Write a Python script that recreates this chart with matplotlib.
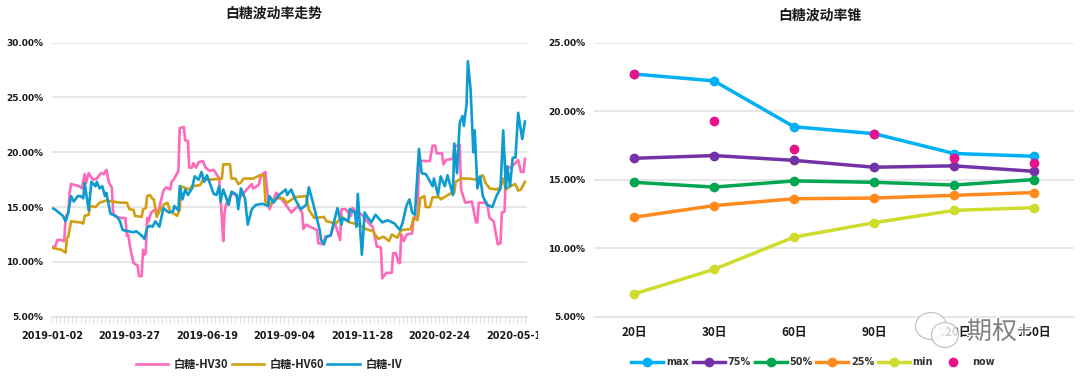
import matplotlib
matplotlib.use("Agg")
import matplotlib.pyplot as plt
import matplotlib.patheffects as pe
from matplotlib.ticker import FuncFormatter
from matplotlib.transforms import Bbox
from matplotlib.patches import Ellipse

plt.rcParams['font.family'] = ['Noto Sans CJK SC', 'DejaVu Sans']

hv30_i = [0,2,4,6,9,10,12,13,14,17,20,22,24,25,27,30,33,36,38,40,42,44,45,47,51,54,55,56,58,60,63,64,66,67,68,69,70,71,73,76,78,80,82,84,87,88,90,93,94,97,98,100,101,103,104,106,108,111,113,116,119,121,123,125,126,127,128,131,134,137,144,147,148,152,154,157,159,160,165,171,176,181,184,185,187,190,195,196,200,201,205,208,212,213,216,220,221,225,228,234,236,239,242,243,246,250,251,253,255,256,257,259,261,265,266,269,270,272,278,280,282,283,287,288,290,295,296,300,301,304,309,312,313,314,320,322,325,328,330,331,333,334,337,341,343,345,347,348]
hv30_v = [11.4,11.3,12.0,12.0,11.9,14.1,14.5,16.3,17.1,17.0,16.9,16.7,18.0,17.2,18.1,17.5,17.6,18.1,18.0,18.4,17.2,16.8,14.5,14.1,14.0,14.0,12.4,12.5,11.0,9.9,9.65,8.7,8.7,11.1,10.65,10.8,14.0,13.7,14.5,14.8,14.5,15.5,16.5,16.8,16.6,17.3,17.6,18.3,22.2,22.3,21.1,21.0,18.6,18.6,19.0,18.6,19.1,19.2,18.6,18.3,18.4,18.0,17.6,14.0,11.9,14.5,15.2,16.0,16.3,15.7,16.7,17.1,16.7,17.0,17.9,18.2,15.7,14.8,16.3,15.4,14.5,15.1,14.5,13.0,13.4,13.2,12.9,11.7,11.6,12.3,12.4,13.6,12.0,14.8,14.8,14.2,14.9,14.5,14.3,13.4,13.2,11.4,11.3,8.5,9.0,9.0,10.8,10.8,9.9,9.9,12.5,11.9,12.5,12.6,14.0,14.2,19.3,19.2,19.2,20.6,20.6,19.9,19.9,18.9,19.3,19.4,20.5,20.7,16.6,15.4,15.5,13.6,13.6,15.4,15.4,14.0,13.7,11.6,11.7,14.5,14.6,18.7,18.6,19.0,19.3,18.2,18.2,19.4]

hv60_i = [0,3,7,10,11,12,14,21,23,24,27,28,32,35,40,45,50,55,57,60,61,66,67,69,70,72,74,75,77,79,82,85,87,92,94,95,99,101,103,109,111,116,125,126,131,132,135,137,139,141,148,153,156,157,160,165,170,173,179,187,189,193,200,202,209,213,219,226,231,236,240,244,248,250,254,257,264,266,269,271,274,275,278,280,285,286,290,294,296,297,301,307,312,317,319,322,327,330,332,334,337,341,343,345,348]
hv60_v = [11.3,11.2,11.1,10.85,12.2,12.3,13.7,13.6,13.5,14.2,14.3,15.1,15.0,15.4,15.6,15.5,15.4,15.4,14.8,14.75,14.2,14.1,14.8,14.9,16.0,16.1,15.75,15.7,14.1,14.6,15.2,15.4,14.6,14.2,14.75,16.9,16.7,16.6,16.9,17.0,17.5,17.5,17.6,18.9,18.9,17.6,17.6,17.1,17.25,17.6,17.6,17.9,17.9,15.5,15.2,15.8,15.8,15.4,15.9,16.0,14.75,14.0,14.1,13.7,13.5,14.1,13.6,13.4,13.0,12.8,12.1,12.3,11.9,12.5,12.2,12.9,13.0,14.0,13.8,15.8,16.0,15.0,15.0,15.9,15.9,15.7,16.0,16.3,16.3,17.3,17.6,17.6,17.5,17.9,17.2,16.7,16.6,16.8,17.6,16.6,16.9,17.1,16.5,16.6,17.3]

iv_i = [0,2,5,8,10,12,14,16,19,21,23,24,27,29,32,33,35,37,39,40,43,48,50,52,56,60,62,66,68,70,72,74,76,79,82,86,89,90,93,94,96,98,100,103,105,108,110,112,114,119,121,123,124,126,130,132,136,137,139,142,144,147,150,155,159,160,163,167,172,173,176,179,183,187,189,192,197,198,200,202,205,210,213,214,218,219,223,224,225,228,230,232,235,238,243,247,252,256,258,261,263,265,267,270,272,275,277,280,281,284,286,289,291,295,296,298,300,302,303,305,306,308,310,311,313,315,317,320,324,327,330,332,334,335,337,339,341,343,346,348]
iv_v = [14.9,14.8,14.5,14.2,13.7,14.5,16.0,15.5,16.0,16.0,15.8,17.2,14.7,17.3,16.9,17.3,16.7,16.9,16.0,16.3,14.4,14.1,13.7,12.9,12.8,12.7,12.8,12.4,12.1,13.1,13.3,13.2,13.7,13.2,14.9,14.5,14.6,15.1,14.7,16.9,15.7,16.6,16.1,16.7,17.8,17.5,18.2,17.3,17.9,16.2,16.1,16.9,15.5,16.6,15.2,16.4,16.1,14.8,16.7,15.8,13.4,14.8,15.2,15.3,15.1,16.0,15.4,16.1,16.6,16.1,16.6,15.7,14.8,15.2,16.8,15.4,12.9,12.0,11.6,12.3,12.4,14.9,13.4,14.0,13.7,14.8,14.5,13.2,16.2,10.65,14.5,14.1,13.6,14.3,13.6,13.8,13.5,12.9,13.6,15.2,15.7,14.5,14.3,20.3,18.1,18.0,17.6,16.9,17.6,16.1,17.8,16.9,17.9,16.1,20.8,18.1,22.7,23.3,22.4,24.3,28.3,25.7,20.0,22.0,16.7,17.8,16.0,15.2,15.0,16.0,16.7,22.0,16.7,18.7,16.9,19.5,19.5,23.6,21.2,22.8]

date_ticks = [0,57,114,171,228,285,342]
date_labels = ['2019-01-02','2019-03-27','2019-06-19','2019-09-04','2019-11-28','2020-02-24','2020-05-15']

tenors = ['20日','30日','60日','90日','120日','150日']
cone_max = [22.7,22.2,18.85,18.35,16.9,16.7]
cone_75 = [16.55,16.75,16.4,15.9,16.0,15.6]
cone_50 = [14.8,14.45,14.9,14.8,14.6,15.0]
cone_25 = [12.25,13.1,13.6,13.65,13.85,14.05]
cone_min = [6.65,8.45,10.8,11.85,12.75,12.95]
cone_now = [22.7,19.3,17.2,18.3,16.6,16.2]

W, H = 1080, 380
GRID = '#E3E3E3'
TXT = '#1A1A1A'
pct = FuncFormatter(lambda v, _: f'{v:.2f}%')

fig = plt.figure(figsize=(W/100, H/100), dpi=100)

def axes_px(x0, y0, x1, y1):
    return fig.add_axes([x0/W, 1-y1/H, (x1-x0)/W, (y1-y0)/H])

def style(ax):
    for s in ['top', 'right', 'left']:
        ax.spines[s].set_visible(False)
    ax.spines['bottom'].set_color(GRID)
    ax.spines['bottom'].set_linewidth(1.2)
    ax.grid(axis='y', color=GRID, lw=1.2)
    ax.set_axisbelow(True)
    ax.tick_params(axis='y', length=0, pad=6.5)
    for t in ax.get_yticklabels():
        t.set(fontsize=6.5, fontweight='bold', color=TXT, family=['DejaVu Sans'])

# Left
a = axes_px(52, 42.6, 527, 316.7)
a.plot(hv30_i, hv30_v, color='#FF69B9', lw=1.9, label='白糖-HV30')
a.plot(hv60_i, hv60_v, color='#D09F12', lw=1.9, label='白糖-HV60')
a.plot(iv_i, iv_v, color='#0E9CD0', lw=1.9, label='白糖-IV')
a.set_xlim(0, 349.5)
a.set_ylim(5, 30)
a.set_yticks([5,10,15,20,25,30])
a.yaxis.set_major_formatter(pct)
style(a)
a.set_xticks(date_ticks)
a.set_xticklabels(date_labels)
a.set_xticks(list(range(0, 349, 3)), minor=True)
a.tick_params(axis='x', which='minor', length=4, color=GRID, width=0.8)
a.tick_params(axis='x', which='major', length=4, color=GRID, width=0.8, pad=6)
clip = Bbox([[0, 0], [538, H]])
for t in a.get_xticklabels():
    t.set(fontsize=7, fontweight='bold', color=TXT, family=['DejaVu Sans'], clip_on=True)
    t.set_clip_box(clip)
fig.text(274/W, 1-14/H, '白糖波动率走势', ha='center', va='center', fontsize=10, fontweight='bold', color=TXT)
a.legend(loc='center', bbox_to_anchor=(0.457, -0.175), ncol=3, frameon=False,
         prop={'size': 8, 'weight': 'bold', 'family': ['Noto Sans CJK SC', 'DejaVu Sans']},
         handlelength=2.9, columnspacing=0.3, handletextpad=0.5, labelcolor='#222222')

# Right
b = axes_px(594, 42.5, 1074, 316.6)
x = list(range(len(tenors)))
series = [(cone_max, '#00B0F5', 'max'), (cone_75, '#7432A6', '75%'), (cone_50, '#00A650', '50%'),
          (cone_25, '#FF8A1E', '25%'), (cone_min, '#CEDC2C', 'min')]
for vals, c, lab in series:
    b.plot(x, vals, color=c, lw=2.5, marker='o', ms=6, label=lab)
b.plot(x, cone_now, ls='none', color='#E6148C', marker='o', ms=6, label='now')
b.set_xlim(-0.5, 5.5)
b.set_ylim(5, 25)
b.set_yticks([5,10,15,20,25])
b.yaxis.set_major_formatter(pct)
style(b)
b.set_xticks(x)
b.set_xticklabels(tenors)
b.tick_params(axis='x', length=0, pad=7)
for t in b.get_xticklabels():
    t.set(fontsize=8.5, fontweight='bold', color=TXT)
fig.text(820/W, 1-16/H, '白糖波动率锥', ha='center', va='center', fontsize=10, fontweight='bold', color=TXT)
b.legend(loc='center', bbox_to_anchor=(0.456, -0.166), ncol=6, frameon=False,
         prop={'size': 7, 'weight': 'bold', 'family': ['DejaVu Sans']}, labelcolor='#333333',
         handlelength=3.3, columnspacing=0.42, handletextpad=0.25)

# Watermark
fig.text(967/W, 1-332/H, '期权+', ha='left', va='center', fontsize=18, color='#808080', zorder=10,
         path_effects=[pe.withStroke(linewidth=2, foreground='white')])
for cx, cy, w, h in [(931, 326, 31, 27), (945, 335, 27, 25)]:
    fig.add_artist(Ellipse((cx/W, 1-cy/H), w/W, h/H, transform=fig.transFigure,
                           fc=(1, 1, 1, 0.8), ec='#BDBDBD', lw=0.8, zorder=9))

fig.savefig('out.png', dpi=100)
